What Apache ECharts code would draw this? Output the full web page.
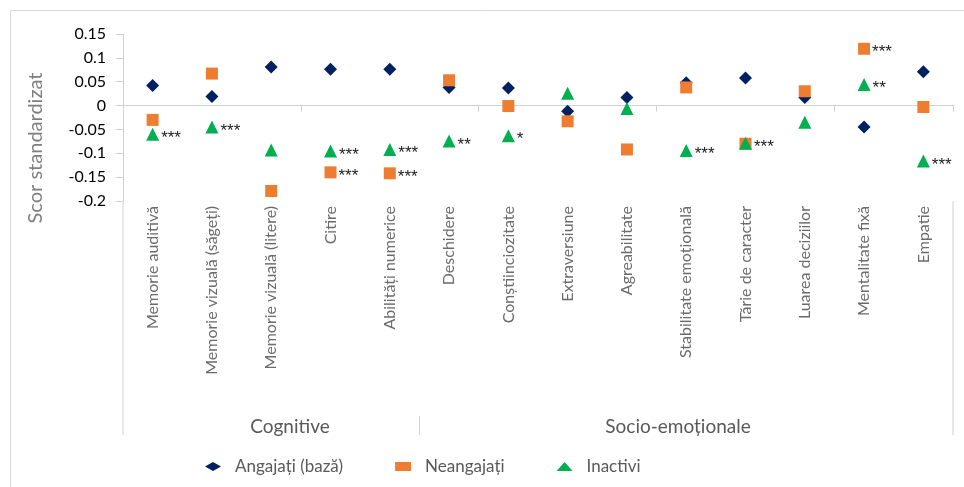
<!DOCTYPE html>
<html>
<head>
<meta charset="utf-8">
<script src="https://cdn.jsdelivr.net/npm/echarts@6/dist/echarts.min.js"></script>
<style>
  html, body { margin: 0; padding: 0; background: #fff; }
  #chart { width: 964px; height: 487px; }
</style>
</head>
<body>
<div id="chart"></div>
<script>
// Competențe măsurate, în ordinea de pe axa orizontală
const categories = [
  'Memorie auditivă', 'Memorie vizuală (săgeți)', 'Memorie vizuală (litere)', 'Citire',
  'Abilități numerice', 'Deschidere', 'Conștiinciozitate', 'Extraversiune', 'Agreabilitate',
  'Stabilitate emoțională', 'Tărie de caracter', 'Luarea deciziilor', 'Mentalitate fixă', 'Empatie'
];

// Grupuri de competențe (primele 5 cognitive, restul socio-emoționale)
const groupNames = ['Cognitive', 'Socio-emoționale'];
const groupSizes = [5, 9];

// Scoruri standardizate pe statut ocupațional
const angajati = [0.042, 0.019, 0.081, 0.076, 0.076, 0.038, 0.037, -0.012, 0.017, 0.048, 0.058, 0.017, -0.045, 0.071];
const neangajati = [-0.030, 0.067, -0.179, -0.140, -0.142, 0.053, -0.001, -0.033, -0.092, 0.038, -0.080, 0.030, 0.119, -0.003];
const inactivi = [-0.060, -0.045, -0.093, -0.095, -0.092, -0.074, -0.063, 0.026, -0.006, -0.094, -0.079, -0.035, 0.044, -0.116];

// Semnificația diferenței față de angajați
const sigNeangajati = ['', '', '', '***', '***', '', '', '', '', '', '', '', '***', ''];
const sigInactivi = ['***', '***', '', '***', '***', '**', '*', '', '', '***', '***', '', '**', '***'];

// Axa verticală
const yTicks = ['-0.2', '-0.15', '-0.1', '-0.05', '0', '0.05', '0.1', '0.15'];
const yTitle = 'Scor standardizat';

const FONT = 'Lato, "Open Sans", sans-serif';
const GRAY = '#595959';
const LINE = '#d0d0d0';

const chart = echarts.init(document.getElementById('chart'));

function withStars(values, stars) {
  return values.map((v, i) => ({ value: v, starText: stars[i] }));
}

const starLabel = {
  show: true,
  position: 'right',
  distance: 2,
  offset: [0, 4],
  fontFamily: '"Liberation Sans", Arial, sans-serif',
  fontSize: 17,
  color: '#1a1a1a',
  formatter: p => p.data.starText || ''
};

chart.setOption({
  animation: false,
  textStyle: { fontFamily: FONT },
  grid: { left: 123, right: 11, top: 34, bottom: 286, containLabel: false },
  xAxis: [
    {
      type: 'category',
      data: categories,
      boundaryGap: true,
      axisLine: { onZero: true, lineStyle: { color: LINE, width: 1 } },
      axisTick: { show: true, alignWithLabel: false, length: 6, lineStyle: { color: LINE } },
      axisLabel: { show: false },
      splitLine: { show: false }
    },
    {
      type: 'category',
      data: categories,
      position: 'bottom',
      boundaryGap: true,
      axisLine: { show: false, onZero: false },
      axisTick: { show: false },
      axisLabel: { show: true, rotate: 90, margin: 5, fontSize: 16, color: '#6b6b6b', fontFamily: FONT, interval: 0 },
      splitLine: { show: false }
    }
  ],
  yAxis: {
    type: 'value',
    min: Number(yTicks[0]),
    max: Number(yTicks[yTicks.length - 1]),
    interval: 0.05,
    axisLine: { show: true, lineStyle: { color: LINE } },
    axisTick: { show: true, length: 7, lineStyle: { color: LINE } },
    axisLabel: {
      fontSize: 16, color: '#000', fontFamily: FONT, margin: 17,
      formatter: v => {
        const s = String(Number(v.toFixed(2)));
        return yTicks.includes(s) ? s : '';
      }
    },
    splitLine: { show: false }
  },
  legend: {
    bottom: 7,
    left: 200,
    itemWidth: 16,
    itemHeight: 9,
    itemGap: 52,
    textStyle: { fontSize: 17, color: GRAY, fontFamily: FONT, padding: [0, 0, 0, 9] },
    data: ['Angajați (bază)', 'Neangajați', 'Inactivi']
  },
  series: [
    {
      name: 'Angajați (bază)',
      type: 'scatter',
      symbol: 'diamond',
      symbolSize: 13,
      itemStyle: { color: '#002060', opacity: 1 },
      data: angajati,
      z: 3
    },
    {
      name: 'Neangajați',
      type: 'scatter',
      symbol: 'rect',
      symbolSize: 12,
      itemStyle: { color: '#ED7D31', opacity: 1 },
      data: withStars(neangajati, sigNeangajati),
      label: starLabel,
      z: 4
    },
    {
      name: 'Inactivi',
      type: 'scatter',
      symbol: 'triangle',
      symbolSize: 13,
      itemStyle: { color: '#00B050', opacity: 1 },
      data: withStars(inactivi, sigInactivi),
      label: starLabel,
      z: 5
    }
  ]
});

// Chenarul graficului, titlul axei, liniile axei cu două niveluri și etichetele grupurilor
function drawFrame() {
  const x0 = chart.convertToPixel({ xAxisIndex: 0 }, 0);
  const x1 = chart.convertToPixel({ xAxisIndex: 0 }, 1);
  const band = x1 - x0;
  const left = x0 - band / 2;
  const right = left + band * categories.length;
  const plotBottom = chart.convertToPixel({ yAxisIndex: 0 }, Number(yTicks[0]));
  const axisBottom = 435;
  const groupTop = 416;

  const elements = [
    { type: 'rect', shape: { x: 10.5, y: 10.5, width: 980, height: 500 }, style: { fill: 'none', stroke: '#d9d9d9', lineWidth: 1 }, silent: true },
    { type: 'line', shape: { x1: left, y1: plotBottom, x2: left, y2: axisBottom }, style: { stroke: LINE, lineWidth: 1 }, silent: true },
    { type: 'line', shape: { x1: right, y1: plotBottom, x2: right, y2: axisBottom }, style: { stroke: LINE, lineWidth: 1 }, silent: true },
    {
      type: 'text', x: 36, y: 148, rotation: Math.PI / 2,
      style: { text: yTitle, fontSize: 20, fontFamily: FONT, fill: '#7f7f7f', align: 'center', verticalAlign: 'middle' },
      silent: true
    }
  ];
  let start = 0;
  const groupCenters = [290, 678];
  groupSizes.forEach((n, g) => {
    const end = start + n;
    const gx = left + band * end;
    if (end < categories.length) {
      elements.push({ type: 'line', shape: { x1: gx, y1: groupTop, x2: gx, y2: axisBottom }, style: { stroke: LINE, lineWidth: 1 }, silent: true });
    }
    elements.push({
      type: 'text',
      x: groupCenters[g], y: 427,
      style: { text: groupNames[g], fontSize: 19, fontFamily: FONT, fill: GRAY, align: 'center', verticalAlign: 'middle' },
      silent: true
    });
    start = end;
  });
  chart.setOption({ graphic: { elements } });
}
drawFrame();
</script>
</body>
</html>
